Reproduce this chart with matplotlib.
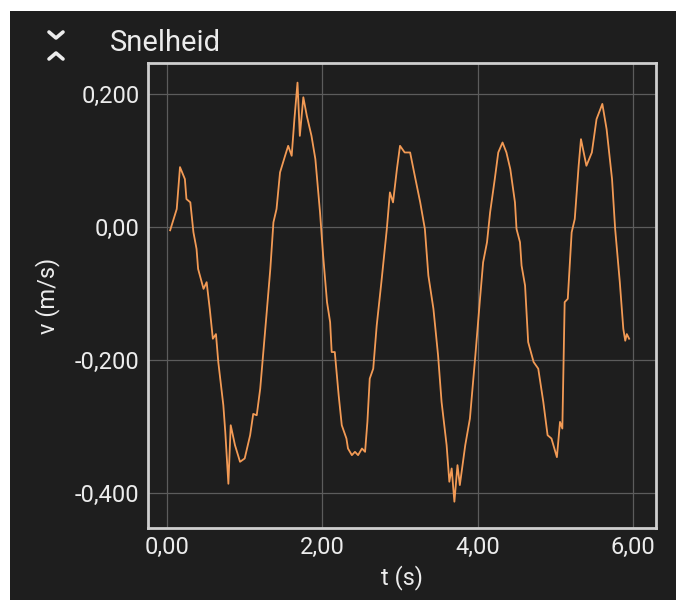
import numpy as np
import matplotlib
matplotlib.use("Agg")
import matplotlib.pyplot as plt
from matplotlib.lines import Line2D
from matplotlib.patches import Rectangle

plt.rcParams["font.family"] = ["Roboto", "DejaVu Sans"]

# speed samples (t in s, v in m/s)
t = [0.04, 0.125, 0.167, 0.23, 0.25, 0.30, 0.34, 0.38, 0.40, 0.47, 0.51, 0.55,
     0.59, 0.63, 0.66, 0.725, 0.75, 0.79, 0.82, 0.875, 0.94, 1.00, 1.07, 1.11,
     1.155, 1.20, 1.28, 1.33, 1.37, 1.41, 1.455, 1.52, 1.56, 1.605, 1.64, 1.68,
     1.71, 1.755, 1.80, 1.86, 1.91, 1.97, 2.01, 2.06, 2.10, 2.12, 2.16, 2.21,
     2.25, 2.31, 2.33, 2.38, 2.42, 2.46, 2.51, 2.55, 2.58, 2.61, 2.655, 2.70,
     2.76, 2.83, 2.87, 2.91, 2.96, 3.00, 3.06, 3.13, 3.19, 3.26, 3.32, 3.365,
     3.43, 3.49, 3.535, 3.60, 3.635, 3.665, 3.70, 3.74, 3.77, 3.84, 3.90, 3.97,
     4.03, 4.07, 4.12, 4.16, 4.22, 4.265, 4.32, 4.37, 4.42, 4.48, 4.50, 4.545,
     4.565, 4.61, 4.65, 4.72, 4.78, 4.845, 4.90, 4.95, 5.02, 5.06, 5.09, 5.12,
     5.16, 5.21, 5.25, 5.30, 5.33, 5.40, 5.47, 5.53, 5.605, 5.66, 5.73, 5.77,
     5.83, 5.875, 5.90, 5.92, 5.95]
v = [-0.005, 0.027, 0.090, 0.072, 0.042, 0.037, -0.008, -0.033, -0.063, -0.093,
     -0.083, -0.123, -0.168, -0.161, -0.203, -0.268, -0.308, -0.386, -0.298,
     -0.328, -0.353, -0.348, -0.313, -0.281, -0.283, -0.243, -0.133, -0.063,
     0.007, 0.027, 0.082, 0.107, 0.122, 0.107, 0.162, 0.217, 0.137, 0.195,
     0.167, 0.137, 0.102, 0.022, -0.043, -0.113, -0.143, -0.188, -0.188,
     -0.253, -0.298, -0.318, -0.333, -0.343, -0.338, -0.343, -0.333, -0.338,
     -0.293, -0.228, -0.213, -0.148, -0.083, -0.003, 0.052, 0.037, 0.087,
     0.122, 0.112, 0.112, 0.077, 0.037, -0.003, -0.073, -0.123, -0.193,
     -0.263, -0.328, -0.383, -0.363, -0.413, -0.358, -0.388, -0.328, -0.288,
     -0.193, -0.108, -0.053, -0.023, 0.022, 0.072, 0.112, 0.127, 0.112, 0.087,
     0.037, -0.003, -0.023, -0.058, -0.088, -0.173, -0.203, -0.213, -0.263,
     -0.313, -0.318, -0.346, -0.293, -0.303, -0.113, -0.108, -0.008, 0.012,
     0.092, 0.132, 0.092, 0.112, 0.162, 0.185, 0.147, 0.072, -0.003, -0.083,
     -0.153, -0.171, -0.161, -0.168]

x_ticks = [0, 2, 4, 6]
x_labels = ["0,00", "2,00", "4,00", "6,00"]
y_ticks = [0.2, 0.0, -0.2, -0.4]
y_labels = ["0,200", "0,00", "-0,200", "-0,400"]

BG = "#1e1e1e"
TXT = "#ececec"

fig = plt.figure(figsize=(6.76, 6.0), dpi=100)
fig.patch.set_facecolor("white")
fig.patches.append(Rectangle((10 / 676, 0), 1, 589 / 600, transform=fig.transFigure,
                             facecolor=BG, edgecolor="none", zorder=-10))

ax = fig.add_axes([148 / 676, 72 / 600, 508 / 676, 465 / 600])
ax.set_facecolor(BG)
ax.plot(t, v, color="#f29a55", lw=1.3, zorder=3)

ax.set_xlim(-0.245, 6.296)
ax.set_ylim(-0.4525, 0.2465)
ax.set_xticks(x_ticks, x_labels)
ax.set_yticks(y_ticks, y_labels)
ax.tick_params(length=0, labelsize=17, colors=TXT, pad=6)
ax.grid(color="#5c5c5c", lw=0.9)
ax.set_axisbelow(True)
for s in ax.spines.values():
    s.set_color("#cfcfcf")
    s.set_linewidth(2)

ax.set_xlabel("t (s)", fontsize=17, color=TXT, labelpad=4)
ax.set_ylabel("v (m/s)", fontsize=17, color=TXT, labelpad=11)

fig.text(110 / 676, 1 - 43 / 600, "Snelheid", fontsize=21, color=TXT,
         ha="left", va="center")

# collapse icon: chevron down over chevron up
cx, w = 56 / 676, 7 / 676
for y0, y1 in [(32, 38), (59, 53)]:
    fig.add_artist(Line2D([cx - w, cx, cx + w],
                          [1 - y0 / 600, 1 - y1 / 600, 1 - y0 / 600],
                          color=TXT, lw=2.6, solid_capstyle="round"))

fig.savefig("out.png", dpi=100, facecolor=fig.get_facecolor())
